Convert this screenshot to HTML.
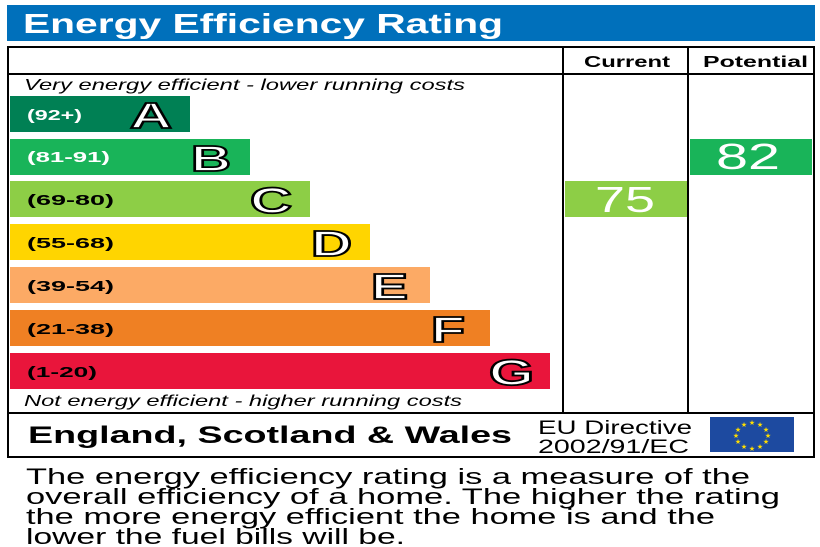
<!DOCTYPE html>
<html><head><meta charset="utf-8"><style>
html,body{margin:0;padding:0;background:#fff;}
svg{display:block;}
text{font-family:"Liberation Sans",Arial,sans-serif;}
</style></head><body>
<svg width="820" height="547" viewBox="0 0 820 547" xmlns="http://www.w3.org/2000/svg">
<rect x="7" y="5" width="808" height="36" fill="#0070bb"/>
<text x="23" y="33" font-size="28" font-weight="bold" fill="#fff" textLength="480" lengthAdjust="spacingAndGlyphs">Energy Efficiency Rating</text>
<rect x="8" y="47" width="806" height="410" fill="none" stroke="#000" stroke-width="2"/>
<line x1="8" y1="74" x2="814" y2="74" stroke="#000" stroke-width="2"/>
<line x1="563" y1="47" x2="563" y2="413" stroke="#000" stroke-width="2"/>
<line x1="688" y1="47" x2="688" y2="413" stroke="#000" stroke-width="2"/>
<line x1="8" y1="413" x2="814" y2="413" stroke="#000" stroke-width="2"/>
<text x="584" y="67" font-size="16" font-weight="bold" textLength="86" lengthAdjust="spacingAndGlyphs">Current</text>
<text x="703" y="67" font-size="16" font-weight="bold" textLength="105" lengthAdjust="spacingAndGlyphs">Potential</text>
<text x="24" y="90" font-size="16" font-style="italic" textLength="441" lengthAdjust="spacingAndGlyphs">Very energy efficient - lower running costs</text>
<g font-weight="bold">
<rect x="10" y="96" width="180" height="36" fill="#008054"/>
<text x="27" y="120" font-size="15" fill="#fff" textLength="55" lengthAdjust="spacingAndGlyphs">(92+)</text>
<text x="130" y="128" font-size="36" fill="#fff" stroke="#000" stroke-width="1.8" textLength="42" lengthAdjust="spacingAndGlyphs">A</text>
<rect x="10" y="139" width="240" height="36" fill="#19b459"/>
<text x="27" y="162" font-size="15" fill="#fff" textLength="83" lengthAdjust="spacingAndGlyphs">(81-91)</text>
<text x="191" y="171" font-size="36" fill="#fff" stroke="#000" stroke-width="1.8" textLength="40" lengthAdjust="spacingAndGlyphs">B</text>
<rect x="10" y="181" width="300" height="36" fill="#8dce46"/>
<text x="27" y="205" font-size="15" fill="#000" textLength="87" lengthAdjust="spacingAndGlyphs">(69-80)</text>
<text x="250" y="213" font-size="36" fill="#fff" stroke="#000" stroke-width="1.8" textLength="42" lengthAdjust="spacingAndGlyphs">C</text>
<rect x="10" y="224" width="360" height="36" fill="#ffd500"/>
<text x="27" y="248" font-size="15" fill="#000" textLength="87" lengthAdjust="spacingAndGlyphs">(55-68)</text>
<text x="311" y="256" font-size="36" fill="#fff" stroke="#000" stroke-width="1.8" textLength="41" lengthAdjust="spacingAndGlyphs">D</text>
<rect x="10" y="267" width="420" height="36" fill="#fcaa65"/>
<text x="27" y="291" font-size="15" fill="#000" textLength="87" lengthAdjust="spacingAndGlyphs">(39-54)</text>
<text x="371" y="299" font-size="36" fill="#fff" stroke="#000" stroke-width="1.8" textLength="37" lengthAdjust="spacingAndGlyphs">E</text>
<rect x="10" y="310" width="480" height="36" fill="#ef8023"/>
<text x="27" y="334" font-size="15" fill="#000" textLength="87" lengthAdjust="spacingAndGlyphs">(21-38)</text>
<text x="431" y="342" font-size="36" fill="#fff" stroke="#000" stroke-width="1.8" textLength="34" lengthAdjust="spacingAndGlyphs">F</text>
<rect x="10" y="353" width="540" height="36" fill="#e9153b"/>
<text x="27" y="377" font-size="15" fill="#000" textLength="70" lengthAdjust="spacingAndGlyphs">(1-20)</text>
<text x="489" y="385" font-size="36" fill="#fff" stroke="#000" stroke-width="1.8" textLength="45" lengthAdjust="spacingAndGlyphs">G</text>
</g>
<text x="24" y="406" font-size="16" font-style="italic" textLength="438" lengthAdjust="spacingAndGlyphs">Not energy efficient - higher running costs</text>
<rect x="565" y="181" width="122" height="36" fill="#8dce46"/>
<text x="595" y="212" font-size="36" fill="#fff" textLength="60" lengthAdjust="spacingAndGlyphs">75</text>
<rect x="690" y="139" width="122" height="36" fill="#19b459"/>
<text x="716" y="169" font-size="36" fill="#fff" textLength="64" lengthAdjust="spacingAndGlyphs">82</text>
<text x="28" y="443" font-size="24" font-weight="bold" textLength="484" lengthAdjust="spacingAndGlyphs">England, Scotland &amp; Wales</text>
<text x="538" y="434" font-size="19" textLength="154" lengthAdjust="spacingAndGlyphs">EU Directive</text>
<text x="538" y="453" font-size="19" textLength="151" lengthAdjust="spacingAndGlyphs">2002/91/EC</text>
<rect x="710" y="417" width="84" height="35" fill="#1d4aa0"/>
<g fill="#ffdd00" font-size="7" text-anchor="middle">
<text x="752" y="425">★</text><text x="760" y="427">★</text><text x="766" y="432">★</text><text x="768" y="438">★</text><text x="766" y="444">★</text><text x="760" y="449">★</text><text x="752" y="451">★</text><text x="744" y="449">★</text><text x="738" y="444">★</text><text x="736" y="438">★</text><text x="738" y="432">★</text><text x="744" y="427">★</text>
</g>
<g font-size="22" fill="#000">
<text x="26" y="484" textLength="724" lengthAdjust="spacingAndGlyphs">The energy efficiency rating is a measure of the</text>
<text x="26" y="504" textLength="754" lengthAdjust="spacingAndGlyphs">overall efficiency of a home. The higher the rating</text>
<text x="26" y="524" textLength="689" lengthAdjust="spacingAndGlyphs">the more energy efficient the home is and the</text>
<text x="26" y="544" textLength="379" lengthAdjust="spacingAndGlyphs">lower the fuel bills will be.</text>
</g>
</svg>
</body></html>
